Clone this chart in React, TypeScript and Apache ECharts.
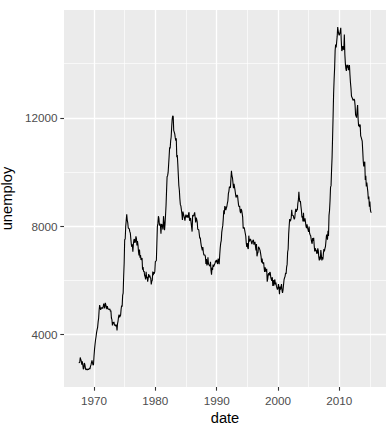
import React, { useEffect, useRef } from "react";
import * as echarts from "echarts";

// economics$unemploy (thousands), monthly, starting 1967-07
const startYear = 1967;
const startMonth = 7;

const unemploy1967to1969 = [
  2944, 2945, 2958, 3143, 3066, 3018,
  2878, 3001, 2877, 2709, 2740, 2938, 2883, 2768, 2686, 2689, 2715, 2685,
  2718, 2692, 2712, 2758, 2713, 2816, 2868, 2856, 3040, 3049, 2856, 2884,
];
const unemploy1970s = [
  3201, 3453, 3635, 3797, 3919, 4071, 4175, 4256, 4456, 4591, 4898, 5076,
  4986, 4903, 4987, 4959, 4996, 4949, 5035, 5134, 5042, 4954, 5161, 5154,
  5019, 4928, 5038, 4959, 4922, 4923, 4913, 4939, 4849, 4875, 4602, 4543,
  4326, 4452, 4394, 4459, 4329, 4363, 4305, 4305, 4350, 4144, 4396, 4489,
  4644, 4731, 4634, 4618, 4705, 4927, 5063, 5022, 5437, 5523, 6140, 6636,
  7501, 7520, 7978, 8210, 8433, 8220, 8127, 7928, 7923, 7897, 7794, 7744,
  7534, 7326, 7230, 7330, 7053, 7322, 7490, 7518, 7380, 7430, 7620, 7545,
  7280, 7443, 7307, 7059, 6911, 7134, 6829, 6925, 6751, 6763, 6815, 6386,
  6489, 6318, 6337, 6180, 6127, 6028, 6309, 6080, 6125, 5947, 6077, 6228,
  6109, 6173, 6109, 6069, 5840, 5959, 5996, 6320, 6190, 6296, 6238, 6325,
];
const unemploy1980s = [
  6683, 6702, 6729, 7358, 7984, 8098, 8363, 8281, 8021, 8088, 8023, 7718,
  8071, 8051, 7982, 7869, 8366, 8131, 7848, 8080, 8418, 8781, 9314, 9819,
  9861, 9972, 10263, 10571, 10908, 10868, 11148, 11291, 11658, 11954, 12070, 12051,
  11534, 11545, 11408, 11268, 11154, 11246, 10548, 10623, 10282, 9887, 9499, 9331,
  9008, 8791, 8746, 8762, 8456, 8226, 8537, 8519, 8367, 8381, 8198, 8358,
  8423, 8321, 8339, 8395, 8302, 8460, 8513, 8196, 8248, 8298, 8128, 8138,
  7795, 8402, 8383, 8364, 8439, 8508, 8319, 8135, 8310, 8243, 8159, 7883,
  7892, 7865, 7862, 7542, 7574, 7398, 7268, 7261, 7102, 7227, 7035, 6936,
  6953, 6929, 6876, 6601, 6779, 6546, 6605, 6843, 6604, 6568, 6537, 6518,
  6682, 6359, 6205, 6468, 6375, 6577, 6495, 6511, 6590, 6630, 6725, 6667,
];
const unemploy1990s = [
  6752, 6651, 6598, 6797, 6742, 6590, 6922, 7188, 7368, 7459, 7764, 7901,
  8015, 8265, 8586, 8439, 8736, 8692, 8586, 8666, 8722, 8842, 8931, 9198,
  9283, 9454, 9460, 9415, 9744, 10040, 9850, 9787, 9781, 9398, 9565, 9557,
  9325, 9183, 9056, 9110, 9149, 9121, 8930, 8763, 8714, 8750, 8542, 8477,
  8630, 8583, 8470, 8331, 7915, 7927, 7946, 7933, 7734, 7632, 7375, 7230,
  7375, 7187, 7153, 7645, 7430, 7427, 7527, 7484, 7478, 7328, 7426, 7423,
  7491, 7313, 7318, 7415, 7423, 7095, 7337, 6882, 6979, 7031, 7236, 7253,
  7158, 7102, 7000, 6873, 6655, 6799, 6655, 6608, 6656, 6454, 6308, 6476,
  6368, 6306, 6422, 5941, 6047, 6212, 6259, 6179, 6300, 6280, 6100, 6032,
  5976, 6111, 5783, 6004, 5796, 5951, 6025, 5838, 5915, 5778, 5716, 5653,
];
const unemploy2000s = [
  5708, 5858, 5733, 5481, 5758, 5651, 5747, 5853, 5625, 5534, 5639, 5634,
  6023, 6089, 6141, 6271, 6226, 6484, 6583, 7042, 7142, 7694, 8003, 8258,
  8182, 8215, 8304, 8599, 8399, 8393, 8390, 8304, 8251, 8307, 8520, 8640,
  8520, 8618, 8588, 8842, 8957, 9266, 9011, 8896, 8921, 8732, 8576, 8317,
  8370, 8167, 8491, 8170, 8212, 8286, 8136, 7990, 7927, 8061, 7932, 7934,
  7784, 7980, 7737, 7672, 7651, 7524, 7406, 7345, 7553, 7453, 7566, 7279,
  7064, 7184, 7072, 7120, 6980, 7001, 7175, 7091, 6847, 6727, 6872, 6762,
  7116, 6927, 6731, 6850, 6766, 6979, 7149, 7067, 7170, 7237, 7240, 7645,
  7685, 7497, 7822, 7637, 8395, 8575, 8937, 9438, 9494, 10074, 10538, 11286,
  12058, 12898, 13426, 13853, 14499, 14707, 14601, 14814, 15009, 15352, 15219, 15098,
];
const unemploy2010s = [
  15046, 15113, 15202, 15325, 14849, 14474, 14512, 14648, 14579, 14516, 15081, 14348,
  14013, 13820, 13737, 13957, 13855, 13962, 13763, 13818, 13948, 13594, 13302, 13093,
  12797, 12813, 12713, 12646, 12660, 12692, 12656, 12471, 12115, 12124, 12005, 12298,
  12471, 11950, 11689, 11760, 11654, 11751, 11335, 11279, 11270, 11136, 10787, 10404,
  10202, 10349, 10380, 9702, 9859, 9460, 9608, 9599, 9262, 8990, 9090, 8717,
  8903, 8610, 8504, 8526,
];

const xMajorTicks = [1970, 1980, 1990, 2000, 2010];
const xMinorLines = [1975, 1985, 1995, 2005, 2015];
const yMajorTicks = [4000, 8000, 12000];
const yMinorLines = [6000, 10000, 14000];

const xRange = [1965.1, 2017.63];
const yRange = [2051.65, 15985.35];

const allValues = [
  ...unemploy1967to1969,
  ...unemploy1970s,
  ...unemploy1980s,
  ...unemploy1990s,
  ...unemploy2000s,
  ...unemploy2010s,
];

const seriesData = allValues.map((v, i) => [
  startYear + (startMonth - 1 + i) / 12,
  v,
]);

const FONT = "'Liberation Sans', Arial, sans-serif";

export default function App() {
  const ref = useRef<HTMLDivElement>(null);
  useEffect(() => {
    if (!ref.current) return;
    const chart = echarts.init(ref.current, undefined, { renderer: "svg" });
    chart.setOption({
      animation: false,
      backgroundColor: "#FFFFFF",
      grid: {
        left: 64,
        right: 5,
        top: 10,
        bottom: 41,
        show: true,
        backgroundColor: "#EBEBEB",
        borderWidth: 0,
        containLabel: false,
        outerBoundsMode: "none",
      },
      xAxis: [
        {
          type: "value",
          min: xRange[0],
          max: xRange[1],
          name: "date",
          nameLocation: "middle",
          nameGap: 21,
          nameTextStyle: { fontFamily: FONT, fontSize: 14.67, color: "#000000" },
          axisLine: { show: false },
          axisTick: {
            show: true,
            customValues: xMajorTicks,
            length: 3.7,
            lineStyle: { color: "#333333", width: 1.1 },
          },
          axisLabel: {
            customValues: xMajorTicks,
            margin: 7,
            fontFamily: FONT,
            fontSize: 11.7,
            color: "#4D4D4D",
            formatter: (v: number) => String(Math.round(v)),
          },
          splitLine: { show: true, lineStyle: { color: "#FFFFFF", width: 1.3 } },
        },
        {
          type: "value",
          min: xRange[0],
          max: xRange[1],
          position: "bottom",
          axisLine: { show: false },
          axisTick: { show: false, customValues: xMinorLines },
          axisLabel: { show: false, customValues: xMinorLines },
          splitLine: { show: true, lineStyle: { color: "#FFFFFF", width: 0.65 } },
        },
      ],
      yAxis: [
        {
          type: "value",
          min: yRange[0],
          max: yRange[1],
          name: "unemploy",
          nameLocation: "middle",
          nameRotate: 90,
          nameGap: 42,
          nameTextStyle: { fontFamily: FONT, fontSize: 14.67, color: "#000000" },
          axisLine: { show: false },
          axisTick: {
            show: true,
            customValues: yMajorTicks,
            length: 3.7,
            lineStyle: { color: "#333333", width: 1.1 },
          },
          axisLabel: {
            customValues: yMajorTicks,
            margin: 6.5,
            fontFamily: FONT,
            fontSize: 11.7,
            color: "#4D4D4D",
            formatter: (v: number) => String(Math.round(v)),
          },
          splitLine: { show: true, lineStyle: { color: "#FFFFFF", width: 1.3 } },
        },
        {
          type: "value",
          min: yRange[0],
          max: yRange[1],
          position: "left",
          axisLine: { show: false },
          axisTick: { show: false, customValues: yMinorLines },
          axisLabel: { show: false, customValues: yMinorLines },
          splitLine: { show: true, lineStyle: { color: "#FFFFFF", width: 0.65 } },
        },
      ],
      series: [
        {
          type: "line",
          xAxisIndex: 0,
          yAxisIndex: 0,
          data: seriesData,
          showSymbol: false,
          symbol: "none",
          lineStyle: { color: "#000000", width: 1.1 },
          z: 5,
        },
      ],
    });
    return () => chart.dispose();
  }, []);
  return <div ref={ref} style={{ width: 391, height: 428, position: "absolute", left: 0, top: 0 }} />;
}
